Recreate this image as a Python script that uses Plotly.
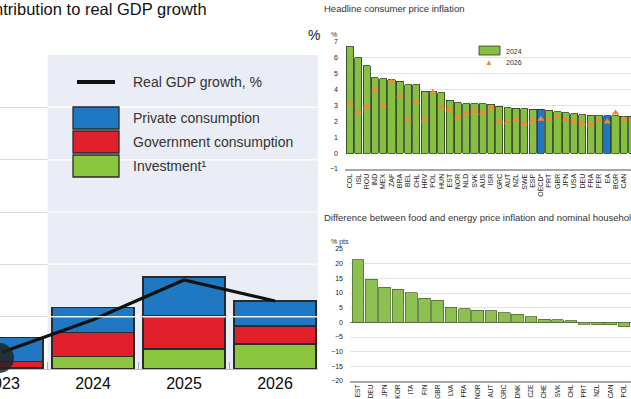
import plotly.graph_objects as go

# ---------------- Data ----------------
# Left: contributions to real GDP growth
years = [2023, 2024, 2025, 2026]
year_labels = ["2023", "2024", "2025", "2026"]
investment = [0.01, 0.12, 0.19, 0.24]
government = [0.06, 0.23, 0.32, 0.17]
private = [0.23, 0.24, 0.37, 0.24]
gdp_growth = [0.16, 0.47, 0.85, 0.65]

# Top right: headline consumer price inflation
cpi_countries = ["COL", "ISL", "ROU", "IND", "MEX", "ZAF", "BRA", "BEL", "CHL", "HRV",
                 "POL", "HUN", "EST", "NOR", "NLD", "SVK", "AUS", "ISR", "GRC", "AUT",
                 "NZL", "SWE", "ESP", "OECD*", "PRT", "GBR", "JPN", "USA", "DEU", "FRA",
                 "PER", "EA", "BGR", "CAN", "CHE"]
cpi_2024 = [6.7, 6.0, 5.5, 4.75, 4.7, 4.63, 4.53, 4.3, 4.3, 3.9,
            3.9, 3.8, 3.33, 3.18, 3.12, 3.12, 3.1, 3.08, 2.96, 2.87,
            2.83, 2.8, 2.77, 2.75, 2.7, 2.6, 2.55, 2.47, 2.43, 2.39,
            2.37, 2.35, 2.35, 2.33, 2.33]
cpi_2026 = [3.1, 2.6, 2.9, 4.0, 3.0, 4.5, 3.6, 2.1, 3.2, 2.1,
            3.85, 2.9, 2.75, 2.25, 2.5, 2.65, 2.54, 2.87, 2.03, 1.93,
            2.1, 1.87, 2.0, 2.14, 2.07, 2.33, 2.14, 2.03, 1.87, 1.8,
            2.07, 1.97, 2.54, 2.15, 2.1]
highlighted = ["OECD*", "EA"]

# Bottom right: food & energy inflation minus household income growth
gap_countries = ["EST", "DEU", "JPN", "KOR", "ITA", "FIN", "GBR", "LVA", "FRA", "NOR",
                 "AUT", "GRC", "DNK", "CZE", "CHE", "SVK", "CHL", "PRT", "NZL", "CAN", "POL"]
gap_values = [21.3, 14.7, 11.9, 11.2, 10.1, 8.2, 7.6, 5.1, 4.6, 4.2,
              3.9, 3.3, 2.8, 1.9, 1.0, 0.8, 0.5, -0.6, -0.8, -0.9, -1.5]

# ---------------- Styling ----------------
W, H = 631, 399
FONT = "Liberation Sans, Arial, sans-serif"
BLUE = "#1f78c1"
RED = "#e2202b"
GREEN = "#8cc63f"
ORANGE = "#ee8a35"


def px(x):
    return x / W


def py(y):
    return 1 - y / H


fig = go.Figure()

# Left chart traces
edge = dict(color="#2a2a2a", width=1.3)
fig.add_trace(go.Bar(x=years, y=investment, marker=dict(color=GREEN, line=edge),
                     width=0.9, xaxis="x", yaxis="y", showlegend=False))
fig.add_trace(go.Bar(x=years, y=government, marker=dict(color=RED, line=edge),
                     width=0.9, xaxis="x", yaxis="y", showlegend=False))
fig.add_trace(go.Bar(x=years, y=private, marker=dict(color=BLUE, line=edge),
                     width=0.9, xaxis="x", yaxis="y", showlegend=False))
fig.add_trace(go.Scatter(x=years, y=gdp_growth, mode="lines",
                         line=dict(color="#111111", width=3.2),
                         xaxis="x", yaxis="y", showlegend=False))

# Top right traces
bar_colors = [BLUE if c in highlighted else "#86c043" for c in cpi_countries]
fig.add_trace(go.Bar(x=cpi_countries, y=cpi_2024, width=0.86,
                     marker=dict(color=bar_colors, line=dict(color="#2b3a1f", width=0.8)),
                     xaxis="x2", yaxis="y2", showlegend=False))
fig.add_trace(go.Scatter(x=cpi_countries, y=cpi_2026, mode="markers",
                         marker=dict(symbol="triangle-up", size=6.5, color=ORANGE),
                         xaxis="x2", yaxis="y2", showlegend=False))

# Bottom right traces
fig.add_trace(go.Bar(x=gap_countries, y=gap_values, width=0.88,
                     marker=dict(color="#8cc152", line=dict(color="#4e6b2c", width=0.8)),
                     xaxis="x3", yaxis="y3", showlegend=False))

left_range = [2023 - 2 / 91, 2023 + 316 / 91]
small_font = dict(family=FONT, size=7, color="#222222")
tiny_font = dict(family=FONT, size=6.5, color="#222222")

fig.update_layout(
    width=W, height=H, autosize=False,
    margin=dict(l=0, r=0, t=0, b=0, pad=0, autoexpand=False),
    paper_bgcolor="white", plot_bgcolor="rgba(0,0,0,0)",
    barmode="stack",
    font=dict(family=FONT, color="#333333"),
    xaxis=dict(domain=[0, px(318)], anchor="y", range=left_range, automargin=False,
               tickmode="array", tickvals=years, ticktext=year_labels,
               tickfont=dict(family=FONT, size=16, color="#0a0a0a"),
               ticks="", ticklabeloverflow="allow", showgrid=False,
               showline=True, linecolor="#bbbbbb", linewidth=1,
               minor=dict(tickmode="array", tickvals=[2023.5, 2024.5, 2025.5],
                          ticks="inside", ticklen=7, tickcolor="#aaaaaa", tickwidth=1)),
    yaxis=dict(domain=[py(369), py(55)], anchor="x", range=[0, 3], dtick=0.5,
               automargin=False,
               showticklabels=False, gridcolor="#d9d9d9", gridwidth=1,
               zeroline=False, showline=False),
    xaxis2=dict(domain=[px(345), 1], anchor="y2", range=[-0.6, 33.86], type="category",
                automargin=False, tickmode="array", tickvals=cpi_countries, ticktext=cpi_countries,
                tickangle=-90, tickfont=small_font, ticks="", ticklabeloverflow="allow",
                showgrid=False, showline=True, linecolor="#a8a8a8", linewidth=2),
    yaxis2=dict(domain=[py(169), py(42)], anchor="x2", range=[-1, 7], dtick=1,
                automargin=False,
                tickfont=small_font, gridcolor="#e4e4e4", gridwidth=1,
                zeroline=False, layer="above traces", ticklabelstandoff=6),
    xaxis3=dict(domain=[px(350), 1], anchor="y3", range=[-0.6, 20.53], type="category",
                automargin=False, tickmode="array", tickvals=gap_countries, ticktext=gap_countries,
                tickangle=-90, tickfont=tiny_font, ticks="", ticklabeloverflow="allow",
                ticklabelstandoff=-1,
                showgrid=False, showline=True, linecolor="#a8a8a8", linewidth=2),
    yaxis3=dict(domain=[py(381), py(249)], anchor="x3", range=[-20, 25], dtick=5,
                automargin=False,
                tickfont=small_font, gridcolor="#e4e4e4", gridwidth=1,
                zeroline=True, zerolinecolor="#777777", zerolinewidth=1,
                ticklabelstandoff=6),
)

shapes = []
# projection shading on left chart
shapes.append(dict(type="rect", xref="x", yref="y", x0=2023.5, x1=left_range[1], y0=0, y1=3,
                   fillcolor="#eaedf5", line=dict(width=0), layer="below"))
# white grid lines inside the shaded zone
for g in [0.5, 1.0, 1.5, 2.0, 2.5]:
    shapes.append(dict(type="line", xref="x", yref="y", x0=2023.5, x1=left_range[1], y0=g, y1=g,
                       line=dict(color="rgba(255,255,255,0.9)", width=1.5), layer="above"))

# left legend
shapes.append(dict(type="line", xref="paper", yref="paper", x0=px(77), x1=px(115),
                   y0=py(82), y1=py(82), line=dict(color="#111111", width=4)))
for (y0, y1, col) in [(107, 129, BLUE), (131, 153, RED), (155, 177, GREEN)]:
    shapes.append(dict(type="rect", xref="paper", yref="paper", x0=px(73), x1=px(119),
                       y0=py(y1), y1=py(y0), fillcolor=col,
                       line=dict(color="#2a2a2a", width=1.3)))

# top-right legend box
shapes.append(dict(type="rect", xref="paper", yref="paper", x0=px(479), x1=px(500),
                   y0=py(55), y1=py(46), fillcolor="#86c043",
                   line=dict(color="#2b3a1f", width=0.8)))

# cursor blob at bottom-left
shapes.append(dict(type="circle", xref="paper", yref="paper", x0=px(-15), x1=px(14),
                   y0=py(373), y1=py(343), fillcolor="rgba(35,35,35,0.85)",
                   line=dict(width=0)))

annotations = []


def add_text(text, x, y, size, color="#333333", xanchor="left", yanchor="middle"):
    annotations.append(dict(text=text, x=px(x), y=py(y), xref="paper", yref="paper",
                            showarrow=False, xanchor=xanchor, yanchor=yanchor,
                            font=dict(family=FONT, size=size, color=color)))


add_text("Contribution to real GDP growth", 209, 9, 16.5, "#111111", xanchor="right")
add_text("%", 314, 35, 14, "#222222", xanchor="center")
add_text("Real GDP growth, %", 131, 82, 14)
add_text("Private consumption", 131, 118, 14)
add_text("Government consumption", 131, 142, 14)
add_text("Investment\u00b9", 131, 166, 14)

add_text("Headline consumer price inflation", 322, 9, 9.5)
add_text("%", 334, 34, 7, xanchor="center")
add_text("2024", 504, 51, 7)
add_text("\u25b2", 489, 62, 8, ORANGE, xanchor="center")
add_text("2026", 504, 62, 7)

add_text("Difference between food and energy price inflation and nominal household disposable income growth",
         322, 217, 9.5)
add_text("% pts", 340, 242, 7, xanchor="center")

fig.update_layout(shapes=shapes, annotations=annotations)

fig.write_html("out.html",
               config={"displayModeBar": False},
               post_script="document.body.style.margin='0';document.body.style.padding='0';"
                           "document.body.style.overflow='hidden';")
